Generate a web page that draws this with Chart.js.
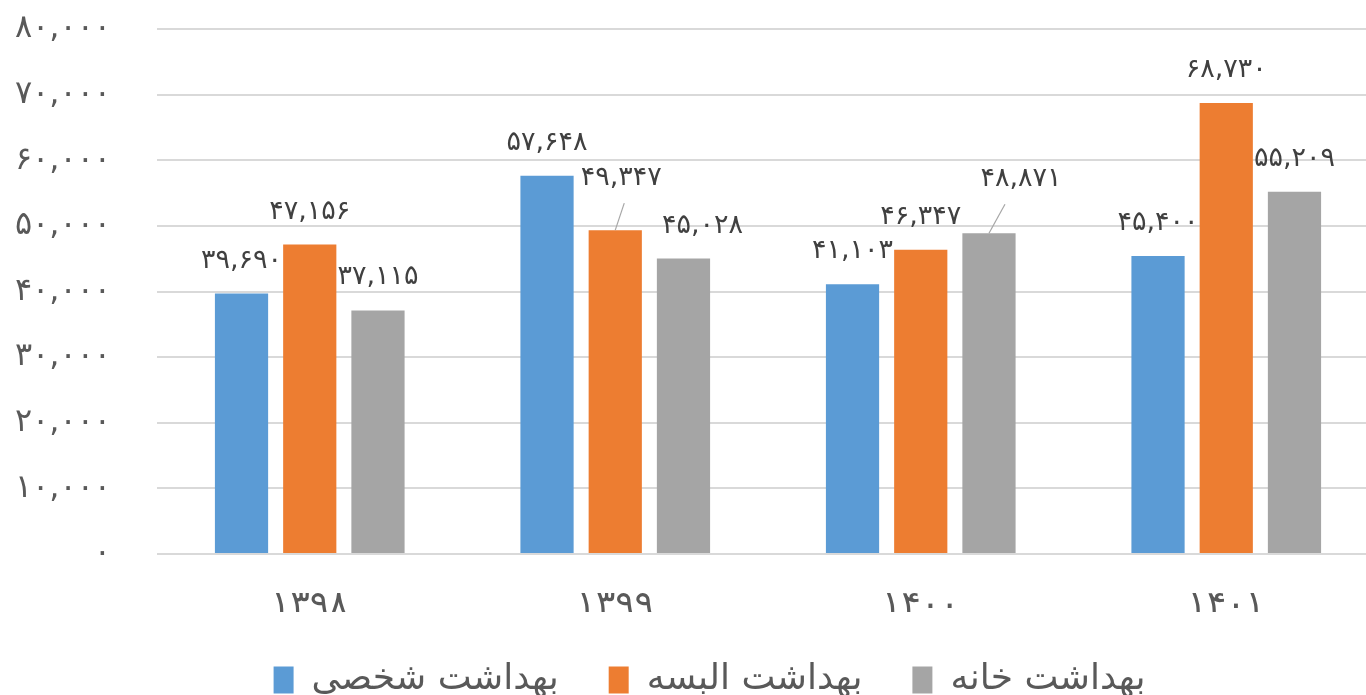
<!DOCTYPE html>
<html><head><meta charset="utf-8">
<script src="https://cdn.jsdelivr.net/npm/chart.js@4"></script>
<style>html,body{margin:0;padding:0;overflow:hidden;background:#fff}#wrap{position:absolute;left:0;top:0;width:1380px;height:708px}</style>
</head><body><div id="wrap"><canvas id="c" width="1380" height="708"></canvas></div>
<script>
// ---- data ----
const categories = ['۱۳۹۸', '۱۳۹۹', '۱۴۰۰', '۱۴۰۱'];
const seriesNames = ['بهداشت شخصی', 'بهداشت البسه', 'بهداشت خانه'];
const personal = [39690, 57648, 41103, 45400];
const clothing = [47156, 49347, 46347, 68730];
const home = [37115, 45028, 48871, 55209];
const yTickValues = [0, 10000, 20000, 30000, 40000, 50000, 60000, 70000, 80000];

// ---- styles ----
const colors = ['#5B9BD5', '#ED7D31', '#A5A5A5'];
const FONT = "'DejaVu Sans', 'Noto Sans', sans-serif";
// label shifts [dx, dy] per dataset per category; leader line end offsets (relative to bar top centre)
const labelShift = [
  [[0,0],[0,0],[0,0],[0,0]],
  [[0,0],[6,-19],[0,0],[0,0]],
  [[0,0],[19,0],[32,-21],[0,0]]
];
const leaders = [
  [null,null,null,null],
  [null,[9,-27],null,null],
  [null,null,[16,-29],null]
];
const LEGEND_SHIFT = 20;

const pDigits = '۰۱۲۳۴۵۶۷۸۹';
function fa(n){ return n.toLocaleString('en-US').replace(/[0-9]/g, d => pDigits[+d]); }

const labelPlugin = {
  id: 'barLabels',
  afterLayout(chart){
    if (chart.legend) { chart.legend.left += LEGEND_SHIFT; chart.legend.right += LEGEND_SHIFT; }
  },
  afterDatasetsDraw(chart){
    const ctx = chart.ctx;
    ctx.save();
    ctx.font = '27px ' + FONT;
    ctx.fillStyle = '#404040';
    ctx.textAlign = 'center';
    ctx.textBaseline = 'middle';
    chart.data.datasets.forEach((ds, di) => {
      const meta = chart.getDatasetMeta(di);
      meta.data.forEach((el, i) => {
        const s = labelShift[di][i];
        const lx = el.x + s[0], ly = el.y - 33 + s[1];
        const ld = leaders[di][i];
        if (ld) {
          ctx.strokeStyle = '#A6A6A6';
          ctx.lineWidth = 1.2;
          ctx.beginPath();
          ctx.moveTo(el.x, el.y);
          ctx.lineTo(el.x + ld[0], el.y + ld[1]);
          ctx.stroke();
        }
        ctx.fillText(fa(ds.data[i]), lx, ly);
      });
    });
    ctx.restore();
  }
};

new Chart(document.getElementById('c'), {
  type: 'bar',
  data: {
    labels: categories,
    datasets: [
      { label: seriesNames[0], data: personal, backgroundColor: colors[0] },
      { label: seriesNames[1], data: clothing, backgroundColor: colors[1] },
      { label: seriesNames[2], data: home, backgroundColor: colors[2] }
    ]
  },
  options: {
    responsive: false,
    animation: false,
    categoryPercentage: 0.67,
    barPercentage: 0.78,
    layout: { padding: { top: 29, right: 1, bottom: 0, left: 0 } },
    plugins: {
      legend: {
        position: 'bottom',
        labels: { font: { family: FONT, size: 36 }, color: '#595959', boxWidth: 20, boxHeight: 27, padding: 50 }
      },
      tooltip: { enabled: false }
    },
    scales: {
      x: {
        afterFit(scale){ scale.height = 58; },
        grid: { display: false, drawTicks: false },
        border: { display: false },
        ticks: { font: { family: FONT, size: 36 }, color: '#595959', padding: 31 }
      },
      y: {
        min: 0, max: 80000,
        afterBuildTicks(scale){ scale.ticks = yTickValues.map(v => ({ value: v })); },
        afterFit(scale){ scale.width = 157; scale.paddingTop = 0; scale.paddingBottom = 0; },
        grid: { color: '#D9D9D9', lineWidth: 2, drawTicks: false },
        border: { display: false },
        ticks: { font: { family: FONT, size: 32 }, color: '#595959', padding: 46, callback: v => fa(v) }
      }
    }
  },
  plugins: [labelPlugin]
});
</script></body></html>
